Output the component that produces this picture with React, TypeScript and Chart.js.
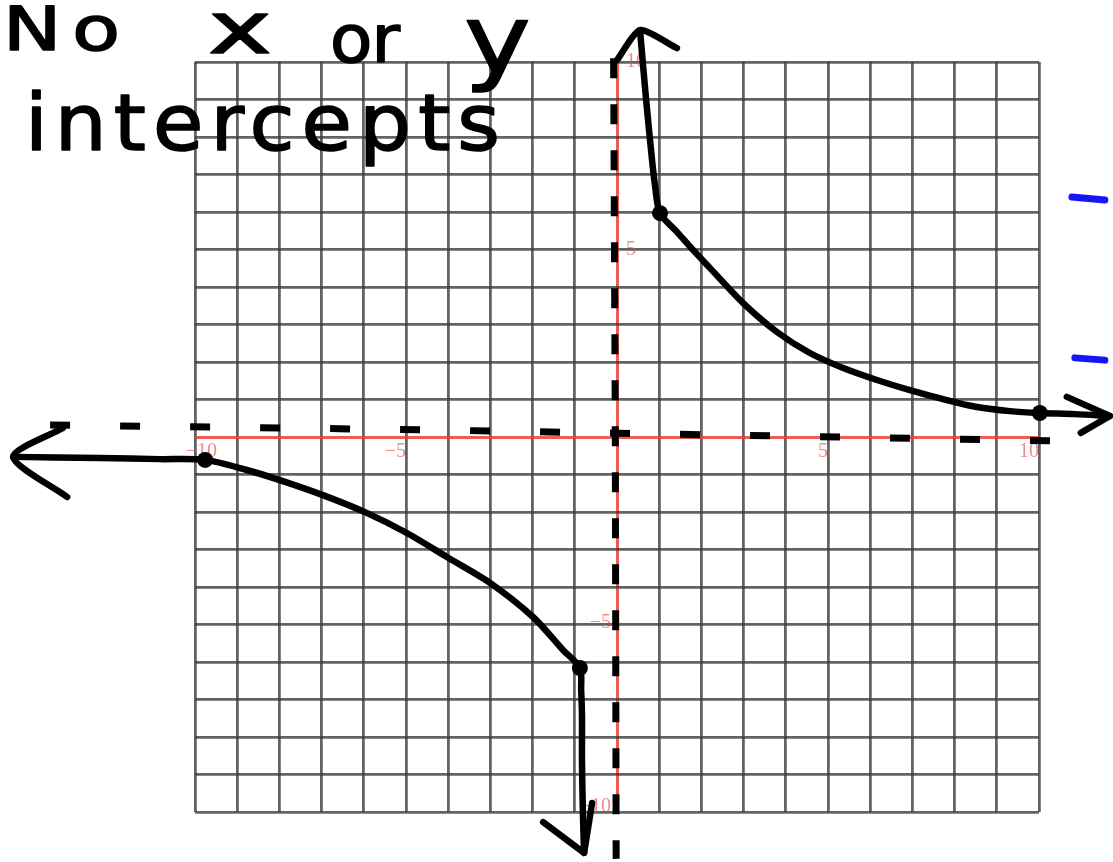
import React, { useEffect, useRef } from "react";
import { Chart, registerables } from "chart.js";

Chart.register(...registerables);

// Branch of y = 6/x in quadrant I, traced from the right arrow tip back up to the upper arrow tip
const rightBranchX = [11.68, 10.85, 10.02, 9.31, 8.53, 7.73, 6.94, 6.16, 5.36, 4.57, 3.79, 2.99, 2.2, 1.8, 1.42, 1.02, 0.9, 0.83, 0.69, 0.545];
const rightBranchY = [0.56, 0.61, 0.64, 0.69, 0.8, 1.01, 1.25, 1.52, 1.84, 2.24, 2.8, 3.57, 4.51, 4.99, 5.47, 5.97, 6.72, 7.39, 8.99, 10.85];

// Branch in quadrant III, traced from the lower arrow tip back out to the left arrow tip
const leftBranchX = [-0.78, -0.81, -0.83, -0.83, -0.85, -0.88, -1.28, -1.99, -3.01, -4.03, -4.98, -5.92, -6.97, -7.99, -8.77, -9.76, -10.83, -12.25, -14.31];
const leftBranchY = [-11.09, -9.95, -8.61, -7.41, -6.75, -6.16, -5.68, -4.8, -3.89, -3.2, -2.56, -2.03, -1.55, -1.15, -0.88, -0.61, -0.59, -0.56, -0.53];

// Plotted points
const markedX = [1.02, 10.02, -9.76, -0.88];
const markedY = [5.97, 0.64, -0.61, -6.16];

// Asymptotes y = 0 and x = 0
const hAsymX = [10.26, -4.5, -13.44];
const hAsymY = [-0.1, 0.19, 0.32];
const vAsymX = [-0.08, -0.04, -0.02];
const vAsymY = [10.1, 0, -11.25];
const vDotsX = [-0.24, -0.24, -0.22];
const vDotsY = [11.39, 11.04, 10.5];

// Arrowheads: wing, tip, wing
const arrowUpX = [0.0, 0.545, 1.42];
const arrowUpY = [10.05, 10.85, 10.37];
const arrowRightX = [10.66, 11.68, 10.99];
const arrowRightY = [1.07, 0.56, 0.11];
const arrowLeftX = [-13.13, -14.31, -13.03];
const arrowLeftY = [0.24, -0.53, -1.6];
const arrowDownX = [-1.75, -0.78, -0.59];
const arrowDownY = [-10.27, -11.09, -9.76];

// Blue marks to the right of the grid
const blueUpperX = [11.56, 10.78];
const blueUpperY = [6.32, 6.4];
const blueLowerX = [11.56, 10.85];
const blueLowerY = [2.05, 2.11];

// Axis numbering
const xTickLabels = [-10, -5, 5, 10];
const yTickLabels = [10, 5, -5, -10];

// Caption
const captionLine1 = ["No", "x", "or", "y"];
const captionLine2 = ["intercepts"];

const pts = (xs: number[], ys: number[]) => xs.map((x, i) => ({ x, y: ys[i] }));
const fmt = (v: number) => (v < 0 ? "\u2212" + Math.abs(v) : String(v));

const PEN = "#000";
const BLUE = "#1616f5";
const RED_AXIS = "rgba(236,64,54,0.85)";
const GRID = "rgba(60,60,60,0.8)";
const LABEL_RED = "rgba(220,70,70,0.62)";

function pen(data: { x: number; y: number }[], extra: Record<string, unknown> = {}) {
  return {
    data,
    borderColor: PEN,
    backgroundColor: PEN,
    borderWidth: 6.5,
    pointRadius: 0,
    fill: false,
    clip: false as const,
    tension: 0,
    borderCapStyle: "round" as const,
    borderJoinStyle: "round" as const,
    ...extra,
  };
}

// Write a word from `left` to `right`: letters widened by `sx`, then spread apart
function drawWord(
  ctx: CanvasRenderingContext2D,
  text: string,
  left: number,
  right: number,
  baseline: number,
  size: number,
  sx = 1
) {
  ctx.save();
  ctx.font = `${size}px "DejaVu Sans", sans-serif`;
  ctx.fillStyle = PEN;
  ctx.strokeStyle = PEN;
  ctx.lineWidth = 1.6;
  ctx.lineJoin = "round";
  ctx.textBaseline = "alphabetic";
  ctx.textAlign = "left";
  const c = ctx as any;
  c.letterSpacing = "0px";
  const w = ctx.measureText(text).width * sx;
  const span = right - left;
  let start = left;
  if (text.length > 1) {
    const gap = (span - w) / (text.length - 1) / sx;
    c.letterSpacing = `${gap}px`;
  } else {
    start = left + (span - w) / 2;
  }
  ctx.translate(start, baseline);
  ctx.scale(sx, 1);
  ctx.fillText(text, 0, 0);
  ctx.strokeText(text, 0, 0);
  ctx.restore();
}

const paperPlugin = {
  id: "paper",
  beforeDraw(chart: Chart) {
    const { ctx, width, height } = chart;
    ctx.save();
    ctx.fillStyle = "#fff";
    ctx.fillRect(0, 0, width, height);
    ctx.restore();
  },
  beforeDatasetsDraw(chart: Chart) {
    const { ctx } = chart;
    const xs = chart.scales.x;
    const ys = chart.scales.y;
    const x0 = xs.getPixelForValue(0);
    const y0 = ys.getPixelForValue(0);
    ctx.save();
    ctx.font = '20px "Liberation Serif", serif';
    ctx.fillStyle = LABEL_RED;
    ctx.textBaseline = "top";
    ctx.textAlign = "right";
    xTickLabels.forEach((v) => {
      const px = xs.getPixelForValue(v) + (v === -10 ? 22 : 0);
      ctx.fillText(fmt(v), px, y0 + 5);
    });
    ctx.textBaseline = "middle";
    yTickLabels.forEach((v) => {
      const py = ys.getPixelForValue(v);
      if (v > 0) {
        ctx.textAlign = "left";
        ctx.fillText(fmt(v), x0 + 9, py);
      } else {
        ctx.textAlign = "right";
        ctx.fillText(fmt(v), x0 - 6, py - (v === -10 ? 5 : 2));
      }
    });
    ctx.restore();
  },
  afterDatasetsDraw(chart: Chart) {
    const { ctx } = chart;
    const line1: [number, number, number, number, number][] = [
      [3, 120, 50, 60, 1.3],
      [198, 282, 53, 72, 1.5],
      [330, 400, 62, 66, 1.05],
      [450, 545, 72, 94, 1.2],
    ];
    captionLine1.forEach((w, i) => {
      const [l, r, b, s, sx] = line1[i];
      drawWord(ctx, w, l, r, b, s, sx);
    });
    drawWord(ctx, captionLine2[0], 25, 500, 150, 78, 1.05);
  },
};

export default function App() {
  const ref = useRef<HTMLCanvasElement>(null);

  useEffect(() => {
    const canvas = ref.current;
    if (!canvas) return;

    const gridColor = (c: any) => (c.tick && c.tick.value === 0 ? RED_AXIS : GRID);
    const gridWidth = (c: any) => (c.tick && c.tick.value === 0 ? 3 : 2.8);

    const chart = new Chart(canvas, {
      type: "line",
      data: {
        datasets: [
          pen(pts(hAsymX, hAsymY), { borderDash: [20, 50], borderCapStyle: "butt", borderWidth: 7 }),
          pen(pts(vAsymX, vAsymY), { borderDash: [20, 26], borderCapStyle: "butt", borderWidth: 7 }),
          pen(pts(vDotsX, vDotsY), { showLine: false, pointRadius: 3.5, pointBorderWidth: 0, pointBackgroundColor: PEN }),
          pen(pts(rightBranchX, rightBranchY), { tension: 0.3 }),
          pen(pts(leftBranchX, leftBranchY), { tension: 0.3 }),
          pen(pts(arrowUpX, arrowUpY), { tension: 0.2 }),
          pen(pts(arrowRightX, arrowRightY)),
          pen(pts(arrowLeftX, arrowLeftY), { tension: 0.25 }),
          pen(pts(arrowDownX, arrowDownY)),
          pen(pts(markedX, markedY), { showLine: false, pointRadius: 8, pointBorderWidth: 0, pointBackgroundColor: PEN }),
          pen(pts(blueUpperX, blueUpperY), { borderColor: BLUE, borderWidth: 7 }),
          pen(pts(blueLowerX, blueLowerY), { borderColor: BLUE, borderWidth: 7 }),
        ],
      },
      options: {
        responsive: false,
        animation: false,
        devicePixelRatio: 1,
        events: [],
        layout: { padding: { left: 195, right: 74, top: 62, bottom: 50 } },
        plugins: { legend: { display: false }, tooltip: { enabled: false } },
        scales: {
          x: {
            type: "linear",
            min: -10,
            max: 10,
            ticks: { display: false, stepSize: 1 },
            border: { display: false },
            grid: { drawTicks: false, color: gridColor, lineWidth: gridWidth },
          },
          y: {
            type: "linear",
            min: -10,
            max: 10,
            ticks: { display: false, stepSize: 1 },
            border: { display: false },
            grid: { drawTicks: false, color: gridColor, lineWidth: gridWidth },
          },
        },
      },
      plugins: [paperPlugin],
    });

    return () => chart.destroy();
  }, []);

  return (
    <div style={{ position: "absolute", left: 0, top: 0, width: 1113, height: 862, background: "#fff" }}>
      <canvas ref={ref} width={1113} height={862} style={{ display: "block", width: 1113, height: 862 }} />
    </div>
  );
}
